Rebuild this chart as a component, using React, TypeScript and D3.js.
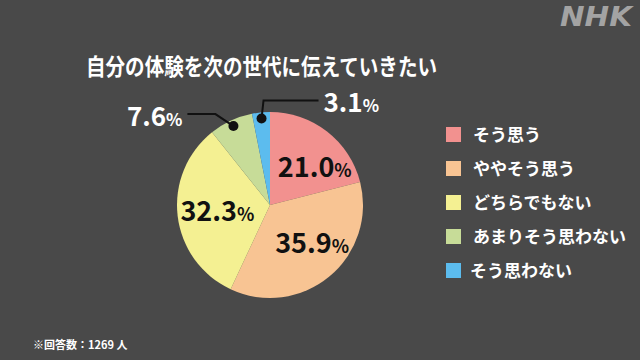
import React from "react";
import * as d3 from "d3";

const categories = ["そう思う", "ややそう思う", "どちらでもない", "あまりそう思わない", "そう思わない"];
const values = [21.0, 35.9, 32.3, 7.6, 3.1];
const colors = ["#f2918f", "#f8c493", "#f4f092", "#c7dc98", "#5cbcee"];
const insideLabel = [true, true, true, false, false];

const title = "自分の体験を次の世代に伝えていきたい";
const footnote = "※回答数：1269 人";

const W = 640;
const H = 360;
const cx = 270;
const cy = 205;
const R = 93;
const FONT = "'Noto Sans CJK JP', 'Noto Sans', sans-serif";

// small nudges so the labels sit where the original puts them
const labelNudge = [[11, 5], [7, -4], [2, 0], [0, 0], [0, 0]];
// leader line: elbow offset from dot, horizontal run
const leader = [null, null, null, { ex: -18, ey: -12, run: -28 }, { ex: 2, ey: -18, run: 55 }];

export default function App() {
  const data = values.map((v, i) => ({ name: categories[i], value: v, color: colors[i], inside: insideLabel[i] }));
  const pie = d3.pie<any>().value((d) => d.value).sort(null);
  const arcs = pie(data);
  const arc = d3.arc<any>().innerRadius(0).outerRadius(R);
  const labelArc = d3.arc<any>().innerRadius(55).outerRadius(55);
  const dotArc = d3.arc<any>().innerRadius(87).outerRadius(87);

  const legendY = d3.scalePoint<string>().domain(categories).range([135, 271]);

  return (
    <svg width={W} height={H} style={{ position: "absolute", left: 0, top: 0, background: "#494949" }} fontFamily={FONT}>
      <rect width={W} height={H} fill="#494949" />
      <text x={560} y={26} textLength={72} lengthAdjust="spacingAndGlyphs" fontSize={27} fontWeight="900" fontStyle="italic" fill="#a3a3a3" fontFamily="'DejaVu Sans', sans-serif">
        NHK
      </text>
      <text x={86} y={75} textLength={351} lengthAdjust="spacingAndGlyphs" fontSize={23} fontWeight="bold" fill="#ffffff">
        {title}
      </text>

      <g transform={`translate(${cx},${cy})`}>
        {arcs.map((a, i) => (
          <path key={i} d={arc(a) || ""} fill={a.data.color} />
        ))}
        {arcs.map((a, i) => {
          if (!a.data.inside) return null;
          const [x, y] = labelArc.centroid(a);
          const [dx, dy] = labelNudge[i];
          return (
            <text key={"l" + i} x={x + dx} y={y + dy + 10} textAnchor="middle" fontSize={27} fontWeight="bold" fill="#111">
              {a.data.value.toFixed(1)}
              <tspan fontSize={18}>%</tspan>
            </text>
          );
        })}
        {arcs.map((a, i) => {
          const L = leader[i];
          if (a.data.inside || !L) return null;
          const [x, y] = dotArc.centroid(a);
          const left = L.run < 0;
          const ex = x + L.ex;
          const ey = y + L.ey;
          const hx = ex + L.run;
          return (
            <g key={"o" + i}>
              <polyline points={`${x},${y} ${ex},${ey} ${hx},${ey}`} fill="none" stroke="#111" strokeWidth={2} />
              <circle cx={x} cy={y} r={5} fill="#111" />
              <text x={left ? hx - 5 : hx + 5} y={ey + 12} textAnchor={left ? "end" : "start"} fontSize={26} fontWeight="bold" fill="#ffffff">
                {a.data.value.toFixed(1)}
                <tspan fontSize={17}>%</tspan>
              </text>
            </g>
          );
        })}
      </g>

      {categories.map((c, i) => (
        <g key={"lg" + i} transform={`translate(446,${legendY(c)})`}>
          <rect x={0} y={-8} width={15} height={15} fill={colors[i]} />
          <text x={i === 4 ? 24 : 27} y={6} fontSize={17} fontWeight="bold" fill="#ffffff">
            {c}
          </text>
        </g>
      ))}

      <text x={33} y={349} fontSize={11} fontWeight="bold" fill="#ffffff">
        {footnote}
      </text>
    </svg>
  );
}
